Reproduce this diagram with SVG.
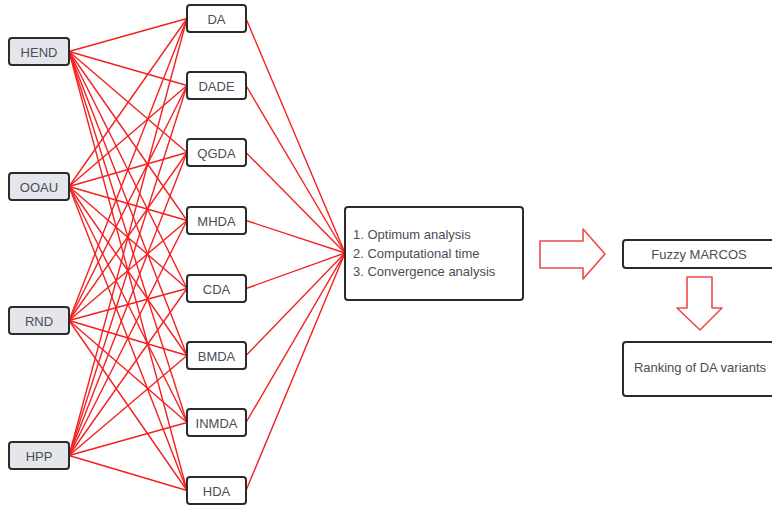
<svg xmlns="http://www.w3.org/2000/svg" width="772" height="506" viewBox="0 0 772 506">
<style>
.src rect{fill:#e4e6eb;stroke:#2b2b2b;stroke-width:2}
.mid rect,.box rect{fill:#fff;stroke:#2b2b2b;stroke-width:2}
text{font-family:"Liberation Sans",Arial,sans-serif;font-size:13px;fill:#4a4e56}
.c text{text-anchor:middle;dominant-baseline:central}
#edges line{stroke:#f42020;stroke-width:1.4}
.arr{fill:#fff;stroke:#f04848;stroke-width:1.6;stroke-linejoin:round}
</style>
<rect width="772" height="506" fill="#fff"/>
<g id="edges">
<line x1="69" y1="51.5" x2="187" y2="18.5"/><line x1="69" y1="51.5" x2="187" y2="85.5"/><line x1="69" y1="51.5" x2="187" y2="152.5"/><line x1="69" y1="51.5" x2="187" y2="220.5"/><line x1="69" y1="51.5" x2="187" y2="288.5"/><line x1="69" y1="51.5" x2="187" y2="355.5"/><line x1="69" y1="51.5" x2="187" y2="422.5"/><line x1="69" y1="51.5" x2="187" y2="490.5"/>
<line x1="69" y1="186.5" x2="187" y2="18.5"/><line x1="69" y1="186.5" x2="187" y2="85.5"/><line x1="69" y1="186.5" x2="187" y2="152.5"/><line x1="69" y1="186.5" x2="187" y2="220.5"/><line x1="69" y1="186.5" x2="187" y2="288.5"/><line x1="69" y1="186.5" x2="187" y2="355.5"/><line x1="69" y1="186.5" x2="187" y2="422.5"/><line x1="69" y1="186.5" x2="187" y2="490.5"/>
<line x1="69" y1="320.5" x2="187" y2="18.5"/><line x1="69" y1="320.5" x2="187" y2="85.5"/><line x1="69" y1="320.5" x2="187" y2="152.5"/><line x1="69" y1="320.5" x2="187" y2="220.5"/><line x1="69" y1="320.5" x2="187" y2="288.5"/><line x1="69" y1="320.5" x2="187" y2="355.5"/><line x1="69" y1="320.5" x2="187" y2="422.5"/><line x1="69" y1="320.5" x2="187" y2="490.5"/>
<line x1="69" y1="455.5" x2="187" y2="18.5"/><line x1="69" y1="455.5" x2="187" y2="85.5"/><line x1="69" y1="455.5" x2="187" y2="152.5"/><line x1="69" y1="455.5" x2="187" y2="220.5"/><line x1="69" y1="455.5" x2="187" y2="288.5"/><line x1="69" y1="455.5" x2="187" y2="355.5"/><line x1="69" y1="455.5" x2="187" y2="422.5"/><line x1="69" y1="455.5" x2="187" y2="490.5"/>
<line x1="246" y1="18.5" x2="345" y2="253"/><line x1="246" y1="85.5" x2="345" y2="253"/><line x1="246" y1="152.5" x2="345" y2="253"/><line x1="246" y1="220.5" x2="345" y2="253"/><line x1="246" y1="288.5" x2="345" y2="253"/><line x1="246" y1="355.5" x2="345" y2="253"/><line x1="246" y1="422.5" x2="345" y2="253"/><line x1="246" y1="490.5" x2="345" y2="253"/>
</g>
<g class="src c">
<g id="HEND"><rect x="9" y="38" width="60" height="27" rx="3"/><text x="39" y="52">HEND</text></g>
<g id="OOAU"><rect x="9" y="173" width="60" height="27" rx="3"/><text x="39" y="187">OOAU</text></g>
<g id="RND"><rect x="9" y="307" width="60" height="27" rx="3"/><text x="39" y="321">RND</text></g>
<g id="HPP"><rect x="9" y="442" width="60" height="27" rx="3"/><text x="39" y="456">HPP</text></g>
</g>
<g class="mid c">
<g id="DA"><rect x="187" y="5" width="59" height="27" rx="3"/><text x="216.5" y="19">DA</text></g>
<g id="DADE"><rect x="187" y="72" width="59" height="27" rx="3"/><text x="216.5" y="86">DADE</text></g>
<g id="QGDA"><rect x="187" y="139" width="59" height="27" rx="3"/><text x="216.5" y="153">QGDA</text></g>
<g id="MHDA"><rect x="187" y="207" width="59" height="27" rx="3"/><text x="216.5" y="221">MHDA</text></g>
<g id="CDA"><rect x="187" y="275" width="59" height="27" rx="3"/><text x="216.5" y="289">CDA</text></g>
<g id="BMDA"><rect x="187" y="342" width="59" height="27" rx="3"/><text x="216.5" y="356">BMDA</text></g>
<g id="INMDA"><rect x="187" y="409" width="59" height="27" rx="3"/><text x="216.5" y="423">INMDA</text></g>
<g id="HDA"><rect x="187" y="477" width="59" height="27" rx="3"/><text x="216.5" y="491">HDA</text></g>
</g>
<g id="criteria" class="box">
<rect x="345" y="207" width="178" height="93" rx="3"/>
<text x="353" y="239">1. Optimum analysis</text>
<text x="353" y="258">2. Computational time</text>
<text x="353" y="276">3. Convergence analysis</text>
</g>
<path class="arr" d="M540,241 H583 V229 L605,254 L583,279 V268 H540 Z"/>
<g id="fuzzy" class="box c">
<rect x="623" y="240" width="160" height="28" rx="3"/>
<text x="699" y="254">Fuzzy MARCOS</text>
</g>
<path class="arr" d="M687,277 H712 V308 H722 L700,330 L677,308 H687 Z"/>
<g id="ranking" class="box c">
<rect x="623" y="342" width="160" height="54" rx="3"/>
<text x="700" y="367">Ranking of DA variants</text>
</g>
</svg>
